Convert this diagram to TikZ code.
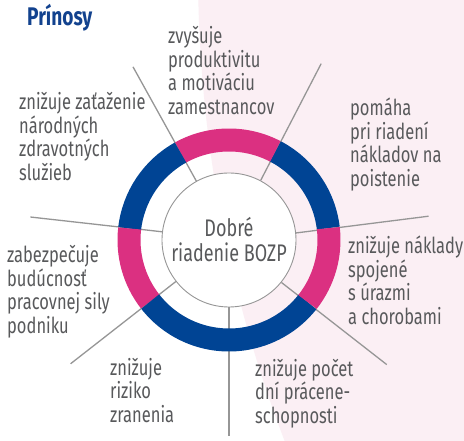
\documentclass[tikz,border=0pt]{standalone}
\usepackage{fontspec}
\setmainfont[FakeStretch=0.75]{Fira Sans}
\usepackage{tikz}
\usetikzlibrary{calc}
\definecolor{ringblue}{RGB}{0,68,148}
\definecolor{ringpink}{RGB}{219,48,129}
\definecolor{bgpink}{RGB}{251,239,244}
\definecolor{textgray}{RGB}{88,89,91}
\definecolor{linegray}{RGB}{150,150,150}
\definecolor{titleblue}{RGB}{18,66,142}
\tikzset{
	wheel/.style={x=1pt,y=1pt},
	hub/.style={circle,draw=linegray,line width=0.9pt,fill=white,minimum size=134pt,
		inner sep=0pt,text=textgray,align=center,font=\fontsize{24}{25}\selectfont},
	benefit/.style={anchor=base west,inner sep=0pt,align=left,text=textgray,
		font=\fontsize{22}{23.5}\selectfont},
	heading/.style={anchor=base west,inner sep=0pt,text=titleblue,
		font=\bfseries\fontsize{25.5}{27}\selectfont},
	spoke/.style={draw=linegray,line width=1.3pt},
	segment/.style={line width=23pt}
}

\begin{document}
\begin{tikzpicture}[wheel]
		
		\fill[white] (-229,-201) rectangle (235,240);
		\useasboundingbox (-229,-201) rectangle (235,240);
		\begin{scope}
			\clip (-229,-201) rectangle (235,240);
			\fill[bgpink] (1287,270) circle[radius=1318];
		\end{scope}
		
		\node[heading] (title) at (-202,214) {Prínosy};
		\node[hub] (hub) at (0,0) {Dobré\\riadenie BOZP};
		
		\foreach \name/\ang/\len in {s1/62.4/199, s2/119/198, s3/173.4/200, s4/218/201,
			s5/270/196, s6/321.7/201, s7/6.8/201}
		\coordinate (\name) at (\ang:\len);
		
		\foreach \name/\ang in {s1/62.4, s2/119, s3/173.4, s4/218, s5/270, s6/321.7, s7/6.8}
		\draw[spoke] (hub.\ang) -- (\name);
		
		\foreach \from/\to/\col in {6.8/62.4/ringblue, 62.4/119/ringpink, 119/173.4/ringblue,
			173.4/218/ringpink, 218/321.7/ringblue, 321.7/366.8/ringpink}
		\draw[segment,\col] (\from:100) arc[start angle=\from,end angle=\to,radius=100];
		
		\node[benefit] (productivity) at (-61,125.5) {zvyšuje\\produktivitu\\a motiváciu\\zamestnancov};
		\node[benefit] (insurance) at (121,53.5) {pomáha\\pri riadení\\nákladov na\\poistenie};
		\node[benefit] (healthcare) at (-210,59.5) {znižuje zaťaženie\\národných\\zdravotných\\služieb};
		\node[benefit] (workforce) at (-222,-93.5) {zabezpečuje\\budúcnosť\\pracovnej sily\\podniku};
		\node[benefit] (injury) at (-119,-182.5) {znižuje\\riziko\\zranenia};
		\node[benefit] (costs) at (119,-84.5) {znižuje náklady\\spojené\\s úrazmi\\a chorobami};
		\node[benefit] (sickdays) at (26,-183.5) {znižuje počet\\dní prácene-\\schopnosti};
		
\end{tikzpicture}
\end{document}
